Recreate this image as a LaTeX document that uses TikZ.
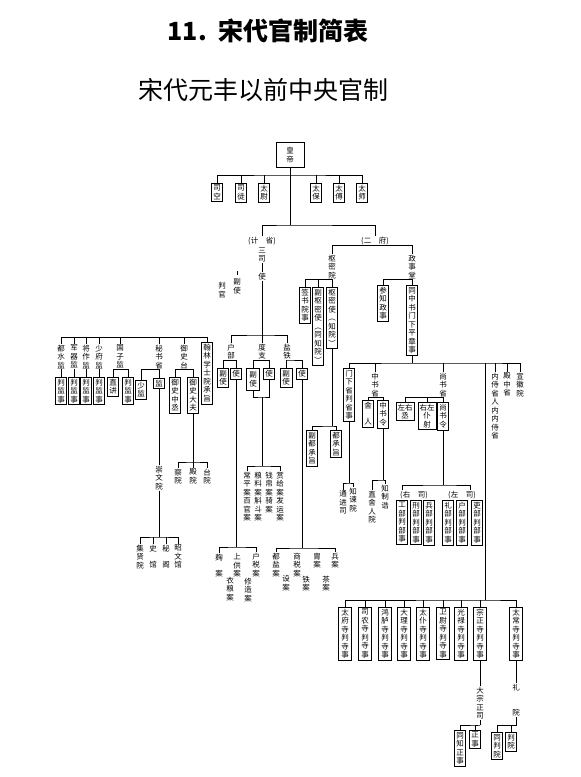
\documentclass[tikz,border=0pt]{standalone}
\usepackage{fontspec}
\setmainfont{Noto Sans CJK SC}
\begin{document}
\begin{tikzpicture}[x=1pt,y=-1pt,line width=0.6pt,
  box/.style={draw, inner sep=1.8pt, minimum width=11pt, align=center, font=\fontsize{7.5}{8.5}\selectfont},
  lbl/.style={inner sep=0.5pt, align=center, font=\fontsize{7.5}{8.5}\selectfont}]
\useasboundingbox (0,0) rectangle (581,777);

% -------------------------------------------------
% Titres
% -------------------------------------------------
\node[font=\fontsize{25}{25}\selectfont\bfseries] (titre) at (268,31) {11.\ \ 宋代官制简表};
\node[font=\fontsize{25}{25}\selectfont] (soustitre) at (263,90) {宋代元丰以前中央官制};

% -------------------------------------------------
%皇帝 et les six
% -------------------------------------------------
\node[box, minimum width=28pt, minimum height=25pt] (huangdi) at (290,155) {皇\\帝};
\foreach \n/\x/\t in {sikong/217/司\\空, situ/241/司\\徒, taiwei/264/太\\尉, taibao/316/太\\保, taifu/339/太\\傅, taishi/362/太\\师}
  \node[box, anchor=north] (\n) at (\x,183) {\t};
\coordinate (bA) at (290,175);
\draw (sikong.north) |- (bA) -| (taishi.north);
\foreach \n in {situ,taiwei,taibao,taifu}
  \draw (\n.north) -- (\n.north |- bA);
\coordinate (bB) at (290,225);
\draw (huangdi.south) -- (bB);
\node[lbl] (jisheng) at (262,241) {(计\quad 省)};
\node[lbl] (erfu) at (375,241) {(二\quad 府)};
\draw (jisheng.north) |- (bB) -| (erfu.north);

% -------------------------------------------------
% 三司
% -------------------------------------------------
\node[lbl, anchor=north] (sansi) at (262,247) {三\\司};
\node[lbl, anchor=north] (sansishi) at (262,272) {使};
\draw (sansi.south) -- (sansishi.north);
\node[lbl] (fushi) at (237,286) {副\\使};
\draw ([yshift=3pt]fushi.north) -- ([yshift=7pt]fushi.north);
\node[lbl] (panguan) at (222,290) {判\\官};
\coordinate (bC) at (262,335);
\draw (sansishi.south) -- (bC);
\node[lbl, anchor=north] (hubu) at (231,343) {户\\部};
\node[lbl, anchor=north] (duzhi) at (262,343) {度\\支};
\node[lbl, anchor=north] (yantie) at (287,343) {盐\\铁};
\draw (hubu.north) |- (bC) -| (yantie.north);
\draw (duzhi.north) -- (bC);

% 户部
\node[box, anchor=north, minimum width=9pt] (hubufu) at (223,368) {副\\使};
\node[box, anchor=north, minimum width=9pt] (hubushi) at (236,368) {使};
\draw (hubufu.north) |- (hubu.south) -| (hubushi.north);
\node[lbl, anchor=north] (qu) at (219,553) {麹\\[8pt]案};
\node[lbl, anchor=north] (shanggong) at (237,553) {上\\供\\案};
\node[lbl, anchor=north] (yiliang) at (230,576) {衣\\粮\\案};
\node[lbl, anchor=north] (hushui) at (256,552) {户\\税\\案};
\node[lbl, anchor=north] (xiuzao) at (248,577) {修\\造\\案};
\draw (hubushi.south) -- (hubushi.south |- 0,547);
\draw (qu.north) |- (hubushi.south |- 0,547) -| (hushui.north);

% 度支
\node[box, anchor=north, minimum width=13pt, minimum height=22pt] (duzhifu) at (253,368) {副\\使};
\node[box, anchor=north, minimum width=9pt] (duzhishi) at (269,368) {使};
\draw (duzhifu.north) |- (duzhi.south) -| (duzhishi.north);
\coordinate (bD) at (262,397);
\draw (duzhifu.south) |- (bD) -| (duzhishi.south);
\node[lbl, anchor=north] (shanggei) at (280,471) {赏\\给\\案\\发\\运\\案};
\node[lbl, anchor=north] (qianbo) at (269,471) {钱\\帛\\案\\骑\\案};
\node[lbl, anchor=north] (liangliao) at (258,471) {粮\\料\\案\\斛\\斗\\案};
\node[lbl, anchor=north] (changping) at (247,471) {常\\平\\案\\百\\官\\案};
\draw (bD) -- (bD |- 0,466);
\draw (changping.north) |- (bD |- 0,466) -| (shanggei.north);

% 盐铁
\node[box, anchor=north, minimum width=12pt, minimum height=19pt] (yantiefu) at (286,368) {副\\使};
\node[box, anchor=north, minimum width=9pt] (yantieshi) at (302,368) {使};
\draw (yantiefu.north) |- (yantie.south) -| (yantieshi.north);
\node[lbl, anchor=north] (duyan) at (276,552) {都\\盐\\案};
\node[lbl, anchor=north] (she) at (286,575) {设\\案};
\node[lbl, anchor=north] (shangshui) at (297,552) {商\\税\\案};
\node[lbl, anchor=north] (tie) at (306,575) {铁\\案};
\node[lbl, anchor=north] (zhou) at (317,552) {胄\\案};
\node[lbl, anchor=north] (cha) at (326,575) {茶\\案};
\node[lbl, anchor=north] (bing) at (335,552) {兵\\案};
\draw (yantieshi.south) -- (yantieshi.south |- 0,548);
\draw (duyan.north) |- (yantieshi.south |- 0,548) -| (bing.north);

% -------------------------------------------------
% 诸监, 秘书省, 御史台, 翰林
% -------------------------------------------------
\foreach \n/\x/\t in {dushui/61/都\\水\\监, junqi/74/军\\器\\监, jiangzuo/86/将\\作\\监, shaofu/99/少\\府\\监, guozi/120/国\\子\\监, mishu/159/秘\\书\\省, yushi/184/御\\史\\台}
  \node[lbl, anchor=north] (\n) at (\x,344) {\t};
\node[box, anchor=north] (hanlin) at (207,342) {翰\\林\\学\\士\\院\\承\\旨};
\draw (dushui.north) |- (hanlin.north |- 0,337) -- (hanlin.north);
\foreach \n in {junqi,jiangzuo,shaofu,guozi,mishu,yushi}
  \draw (\n.north) -- (\n.north |- 0,337);
\foreach \n/\x in {dushui/61, junqi/74, jiangzuo/86, shaofu/99} {
  \node[box, anchor=north] (pj\n) at (\x,377) {判\\监\\事};
  \draw (\n.south) -- (pj\n.north);
}
\node[box, anchor=north] (zhijiang) at (113,377) {直\\讲};
\node[box, anchor=north] (pjguozi) at (128,377) {判\\监\\事};
\draw (zhijiang.north) |- (guozi.south) -| (pjguozi.north);
\node[box, anchor=north] (shaojian) at (141,380) {少\\监};
\node[box, anchor=north] (mishujian) at (159,378) {监};
\draw (shaojian.north) |- (mishu.south) -- (mishujian.north);
\node[box, anchor=north] (zhongcheng) at (175,377) {御\\史\\中\\丞};
\node[box, anchor=north] (dafu) at (193,377) {御\\史\\大\\夫};
\draw (zhongcheng.north) |- (yushi.south) -| (dafu.north);

% 崇文院
\node[lbl, anchor=north] (chongwen) at (159,465) {崇\\文\\院};
\draw (mishujian.south) -- (chongwen.north);
\node[lbl, anchor=north] (jixian) at (140,544) {集\\贤\\院};
\node[lbl, anchor=north] (shiguan) at (153,544) {史\\[8pt]馆};
\node[lbl, anchor=north] (mige) at (166,544) {秘\\[8pt]阁};
\node[lbl, anchor=north] (zhaowen) at (178,544) {昭\\文\\馆};
\draw (chongwen.south) -- (chongwen.south |- 0,537);
\draw (jixian.north) |- (chongwen.south |- 0,537) -| (zhaowen.north);
\foreach \n in {shiguan,mige}
  \draw (\n.north) -- (\n.north |- 0,537);

% 三院
\node[lbl, anchor=north] (chayuan) at (178,468) {察\\院};
\node[lbl, anchor=north] (dianyuan) at (193,468) {殿\\院};
\node[lbl, anchor=north] (taiyuan) at (207,468) {台\\院};
\draw (dafu.south) -- (dafu.south |- 0,462);
\draw (chayuan.north) |- (dafu.south |- 0,462) -| (taiyuan.north);
\draw (dianyuan.north) -- (dafu.south |- 0,462);

% -------------------------------------------------
% 二府 : 枢密院, 政事堂
% -------------------------------------------------
\node[lbl, anchor=north] (shumiyuan) at (332,254) {枢\\密\\院};
\node[lbl, anchor=north] (zhengshitang) at (412,254) {政\\事\\堂};
\draw (shumiyuan.north) |- (erfu.south) -| (zhengshitang.north);
\node[box, anchor=north] (qianshu) at (305,287) {签\\书\\院\\事};
\node[box, anchor=north] (fushumi) at (318,287) {副\\枢\\密\\使\\︵\\同\\知\\院\\︶};
\node[box, anchor=north] (shumishi) at (332,287) {枢\\密\\使\\︵\\知\\院\\︶};
\draw (qianshu.north) |- (shumiyuan.south) -- (shumishi.north);
\draw (fushumi.north) -- (fushumi.north |- shumiyuan.south);
\node[box, anchor=north] (canzhi) at (383,285) {参\\知\\政\\事};
\node[box, anchor=north] (tongzhong) at (412,285) {同\\中\\书\\门\\下\\平\\章\\事};
\draw (canzhi.north) |- (zhengshitang.south) -- (tongzhong.north);

% 都承旨
\node[box, anchor=north] (fudu) at (312,430) {副\\都\\承\\旨};
\node[box, anchor=north] (ducheng) at (336,430) {都\\承\\旨};
\draw (shumishi.south) -- (shumishi.south |- 0,426);
\draw (fudu.north) |- (shumishi.south |- 0,426) -| (ducheng.north);

% -------------------------------------------------
% 三省 etc.
% -------------------------------------------------
\coordinate (bF) at (412,363);
\coordinate (bG) at (485,363);
\draw (tongzhong.south) -- (bF);
\node[box, anchor=north] (menxia) at (349,368) {门\\下\\省\\判\\省\\事};
\node[lbl, anchor=north] (zhongshu) at (375,372) {中\\书\\省};
\node[lbl, anchor=north] (shangshu) at (443,372) {尚\\书\\省};
\node[lbl, anchor=north] (neishi) at (495,372) {内\\侍\\省\\人\\内\\内\\侍\\省};
\node[lbl, anchor=north] (dianzhong) at (507,372) {殿\\中\\省};
\node[lbl, anchor=north] (xuanhui) at (520,372) {宣\\徽\\院};
\draw (menxia.north) |- (bF) -- (bG) -| (xuanhui.north);
\foreach \n in {zhongshu,shangshu,neishi,dianzhong}
  \draw (\n.north) -- (\n.north |- bF);

% 门下省
\node[lbl, anchor=north] (zhijian) at (353,487) {知\\谏\\院};
\node[lbl, anchor=north] (tongjin) at (343,490) {通\\进\\司};
\draw (menxia.south) -- (menxia.south |- 0,483);
\draw (tongjin.north) |- (menxia.south |- 0,483) -| (zhijian.north);

% 中书省
\node[box, anchor=north] (sheren) at (368,400) {舍\\[8pt]人};
\node[box, anchor=north] (zhongshuling) at (383,400) {中\\书\\令};
\draw (sheren.north) |- (zhongshu.south) -| (zhongshuling.north);
\node[lbl, anchor=north] (zhizhigao) at (385,484) {知\\制\\诰};
\node[lbl, anchor=north] (zhisheren) at (372,490) {直\\舍\\人\\院};
\draw (zhongshuling.south) -- (zhongshuling.south |- 0,480);
\draw (zhisheren.north) |- (zhongshuling.south |- 0,480) -| (zhizhigao.north);

% 尚书省
\node[box, anchor=north, inner sep=1.5pt] (zuoyoucheng) at (405,402) {左右\\丞};
\node[box, anchor=north, inner sep=1.5pt] (pushe) at (427,402) {右左\\仆\\射};
\node[box, anchor=north] (shangshuling) at (443,402) {尚\\书\\令};
\draw (zuoyoucheng.north) |- (shangshu.south) -- (shangshuling.north);
\draw (pushe.north) -- (pushe.north |- shangshu.south);
\coordinate (bI) at (443,485);
\coordinate (sL) at (402,490);
\coordinate (sR) at (470,490);
\draw (shangshuling.south) -- (bI);
\draw (sL) |- (bI) -| (sR);
\node[lbl] (yousi) at (414,495) {(右\quad 司)};
\node[lbl] (zuosi) at (462,495) {(左\quad 司)};
\foreach \n/\x/\t in {gongbu/402/工, xingbu/416/刑, bingbu/429/兵, libu/448/礼, hubupan/462/户, libupan/477/吏}
  \node[box, anchor=north] (\n) at (\x,500) {\t\\部\\判\\部\\事};

% -------------------------------------------------
% 九寺
% -------------------------------------------------
\coordinate (bH) at (485,600);
\draw (bG) -- (bH);
\foreach \n/\x/\t in {taifusi/345/太\\府, sinong/365/司\\农, honglu/385/鸿\\胪, dali/404/大\\理, taipu/423/太\\仆, weiwei/443/卫\\尉, guanglu/461/光\\禄, zongzheng/480/宗\\正, taichang/516/太\\常}
  \node[box, anchor=north, minimum width=13pt] (\n) at (\x,607) {\t\\寺\\判\\寺\\事};
\draw (taifusi.north) |- (bH) -| (taichang.north);
\foreach \n in {sinong,honglu,dali,taipu,weiwei,guanglu,zongzheng}
  \draw (\n.north) -- (\n.north |- bH);

% 大宗正司
\node[lbl, anchor=north] (dazong) at (480,686) {大\\宗\\正\\司};
\draw (zongzheng.south) -- (dazong.north);
\node[box, anchor=north] (tongzhi) at (460,730) {同\\知\\正\\事};
\node[box, anchor=north] (zhengshi) at (475,730) {正\\事};
\draw (dazong.south) -- (dazong.south |- 0,725);
\draw (tongzhi.north) |- (dazong.south |- 0,725) -| (zhengshi.north);

% 礼院
\node[lbl, anchor=north] (li) at (516,683) {礼};
\node[lbl, anchor=north] (yuan) at (516,708) {院};
\draw (taichang.south) -- (li.north);
\node[box, anchor=north] (tongpan) at (497,732) {同\\判\\院};
\node[box, anchor=north] (panyuan) at (511,732) {判\\院};
\draw (tongpan.north) |- (yuan.south |- 0,725) -- (yuan.south);
\draw (panyuan.north) -- (panyuan.north |- 0,725);

\end{tikzpicture}
\end{document}
